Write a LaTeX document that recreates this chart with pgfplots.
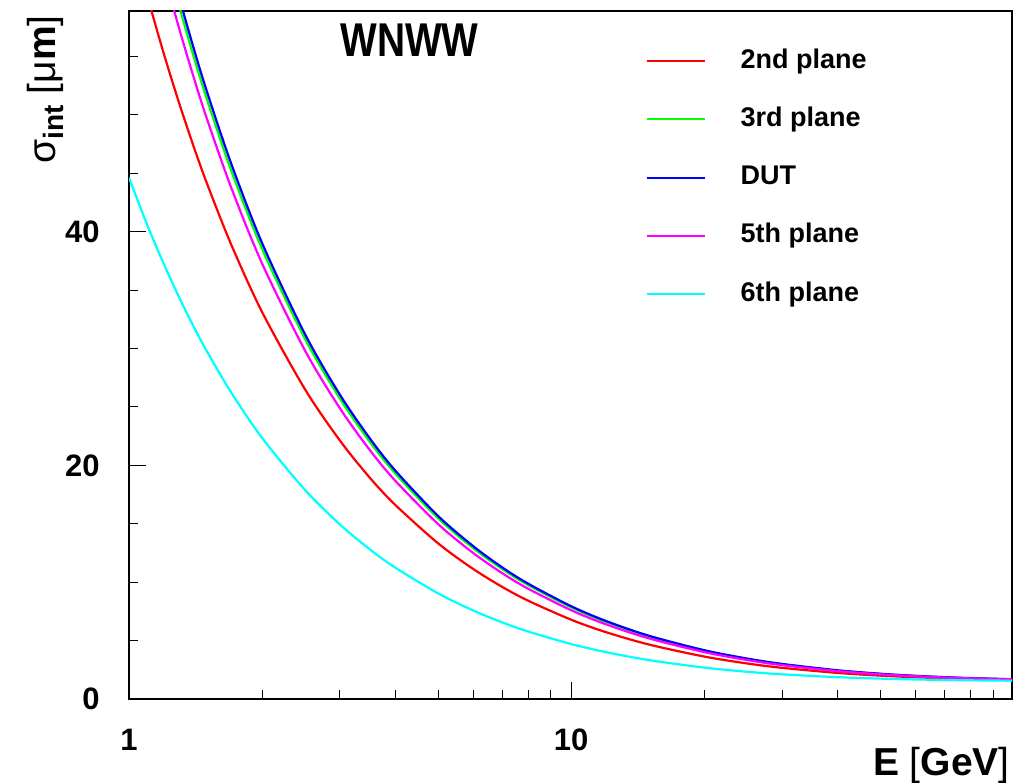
\documentclass[border=0pt]{standalone}
\usepackage{fontspec}
\setmainfont{Liberation Sans}
\usepackage{pgfplots}
\usepackage{pgfplotstable}
\pgfplotsset{compat=1.18}

\definecolor{pRed}{rgb}{1,0,0}
\definecolor{pGreen}{rgb}{0,1,0}
\definecolor{pBlue}{rgb}{0,0,1}
\definecolor{pMagenta}{rgb}{1,0,1}
\definecolor{pCyan}{rgb}{0,1,1}

% intrinsic resolution of each plane vs beam energy
\pgfplotstableread{
E    second third  dut    fifth  sixth
1    66.22  77.01  78.01  74.52  44.63
1.1  60.20  70.02  70.93  67.74  40.57
1.2  55.19  64.18  65.02  62.10  37.20
1.3  50.95  59.25  60.02  57.33  34.34
1.4  47.31  55.02  55.73  53.24  31.89
1.5  44.16  51.36  52.02  49.69  29.77
1.7  38.97  45.32  45.91  43.85  26.28
2    33.13  38.53  39.03  37.28  22.35
2.5  26.52  30.84  31.24  29.84  17.90
3    22.12  25.71  26.04  24.88  14.94
3.5  18.97  22.05  22.34  21.34  12.83
4    16.62  19.31  19.56  18.69  11.25
5    13.33  15.47  15.67  14.98  9.045
6    11.14  12.92  13.09  12.51  7.583
7    9.575  11.10  11.24  10.75  6.545
8    8.410  9.741  9.865  9.433  5.773
10   6.788  7.845  7.943  7.599  4.705
12   5.717  6.590  6.671  6.387  4.008
15   4.661  5.348  5.412  5.188  3.330
20   3.634  4.132  4.179  4.016  2.688
25   3.043  3.426  3.462  3.336  2.331
30   2.668  2.973  3.002  2.901  2.112
40   2.234  2.440  2.460  2.391  1.869
50   2.001  2.150  2.164  2.114  1.745
60   1.862  1.974  1.985  1.947  1.674
70   1.773  1.860  1.869  1.839  1.630
80   1.713  1.782  1.789  1.766  1.600
100  1.640  1.686  1.691  1.675  1.565
}\sigmatab

\begin{document}
\begin{tikzpicture}
\path[use as bounding box] (-64.5pt,-41.5pt) rectangle (446.5pt,349.5pt);
\begin{axis}[
  scale only axis, width=441.5pt, height=344pt,
  xmode=log, xmin=1, xmax=99.3, ymin=0, ymax=58.9,
  axis line style={line width=1.1pt},
  tick align=inside, tick pos=left,
  major tick length=8.5pt, minor tick length=4.5pt,
  tick style={black, line width=0.5pt},
  xtick={1,10}, xticklabels={1,10},
  minor xtick={2,3,4,5,6,7,8,9,20,30,40,50,60,70,80,90},
  ytick={0,20,40}, minor ytick={5,10,15,25,30,35,45,50,55},
  /pgf/number format/assume math mode=true,
  tick label style={font=\bfseries\fontsize{15.5}{15.5}\selectfont, inner sep=0pt},
  xticklabel style={anchor=base, yshift=-25.5pt},
  yticklabel style={anchor=east, xshift=-14.5pt},
  xlabel={E {\mdseries[}GeV{\mdseries]}},
  xlabel style={at={(rel axis cs:0.9977,-0.11047)}, anchor=base east, inner sep=0pt,
    font=\bfseries\fontsize{19.5}{19.5}\selectfont},
  ylabel={{\mdseries σ}{\raisebox{-4pt}{\fontsize{14}{14}\selectfont int}} {\mdseries[μ}m{\mdseries]}},
  ylabel style={at={(rel axis cs:-0.0838,0.9942)}, anchor=base east, inner sep=0pt,
    font=\bfseries\fontsize{19.5}{19.5}\selectfont},
  legend style={at={(rel axis cs:0.5844,0.9467)}, anchor=north west, draw=none, fill=none,
    inner sep=0pt, row sep=16.15pt,
    font=\bfseries\fontsize{13.5}{13.5}\selectfont,
    nodes={inner sep=0pt, text height=10pt, text depth=3pt}},
  legend cell align=left,
  legend image code/.code={\draw[#1] (0pt,0pt) -- (29pt,0pt); \path (46.5pt,0pt);},
  every axis plot/.append style={line width=1.1pt, smooth},
]
\addplot[pRed]     table[x=E, y=second] {\sigmatab};
\addlegendentry{2nd plane}
\addplot[pGreen]   table[x=E, y=third]  {\sigmatab};
\addlegendentry{3rd plane}
\addplot[pBlue]    table[x=E, y=dut]    {\sigmatab};
\addlegendentry{DUT}
\addplot[pMagenta] table[x=E, y=fifth]  {\sigmatab};
\addlegendentry{5th plane}
\addplot[pCyan]    table[x=E, y=sixth]  {\sigmatab};
\addlegendentry{6th plane}
\node[anchor=base, inner sep=0pt, font=\bfseries\fontsize{23.7}{23.7}\selectfont]
  at (rel axis cs:0.3177,0.9336) {\scalebox{0.82}[1]{WNWW}};
\end{axis}
\end{tikzpicture}
\end{document}
